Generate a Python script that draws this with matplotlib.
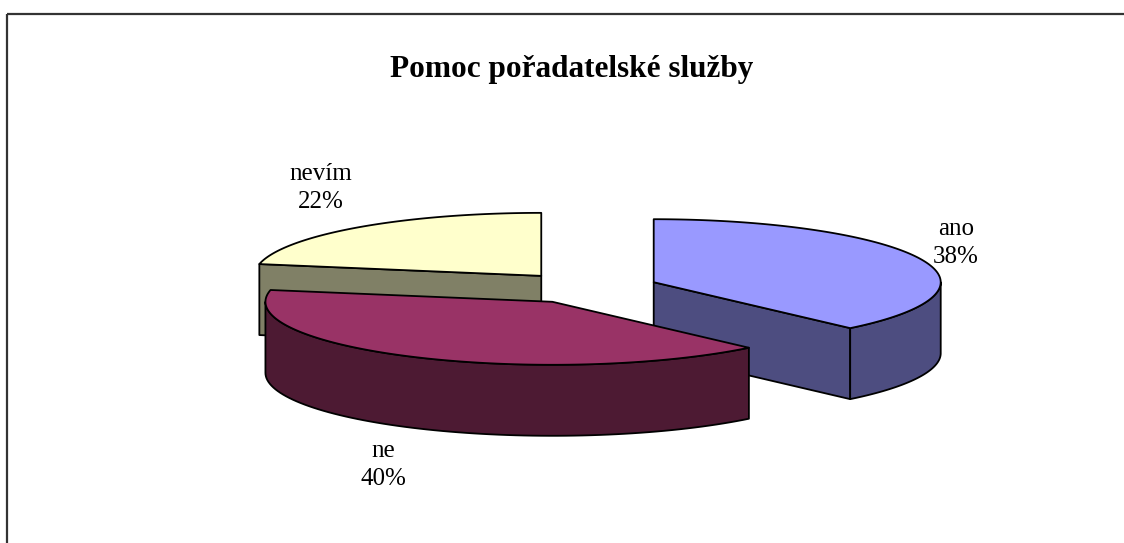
import numpy as np
import matplotlib.pyplot as plt
from matplotlib.patches import Polygon, Rectangle

plt.rcParams['font.family'] = ['Liberation Serif', 'DejaVu Serif']

# data
labels = ['ano', 'ne', 'nevím']
values = [38, 40, 22]
top_colors = ['#9999FF', '#993366', '#FFFFCC']
side_colors = ['#4D4D80', '#4D1A33', '#808066']
title = 'Pomoc pořadatelské služby'

# label anchor positions (pixels)
label_pos = [(956, 243), (383, 465), (321, 188)]

# layout of the 3d pie (pixels)
W, H = 1124, 543
cx, cy = 587, 288
rx, ry = 287, 63
depth = 71
explode = 0.25

fig = plt.figure(figsize=(W / 100, H / 100), dpi=100)
ax = fig.add_axes([0, 0, 1, 1])
ax.set_xlim(0, W)
ax.set_ylim(H, 0)
ax.axis('off')

# outer frame, cut by the page edges
ax.add_patch(Rectangle((7, 14), W + 20, H + 20, fill=False, ec='#333333', lw=1.6))
# bits of a caption above the frame, mostly off the page
ax.text(1, -6, '(', fontsize=16, va='baseline', ha='left', color='#555555')
ax.text(120, -6, ')', fontsize=16, va='baseline', ha='left', color='#555555')

ax.text(572, 69, title, fontsize=22.5, fontweight='bold', ha='center', va='center')


def rim(c, t):
    return np.column_stack([c[0] + rx * np.sin(t), c[1] - ry * np.cos(t)])


fr = np.array(values, dtype=float) / sum(values) * 2 * np.pi
starts = np.concatenate([[0], np.cumsum(fr)[:-1]])
ends = starts + fr

slices = []
for i in range(len(values)):
    mid = (starts[i] + ends[i]) / 2
    c = (cx + explode * rx * np.sin(mid), cy - explode * ry * np.cos(mid))
    slices.append((c[1], i, c))

edge = dict(ec='black', lw=1.3, joinstyle='round')
down = np.array([0, depth])

# paint from back to front
for _, i, c in sorted(slices):
    s, e = starts[i], ends[i]
    c = np.array(c)
    # cut faces
    for ang, vis in ((s, np.sin(s) < -1e-6), (e, np.sin(e) > 1e-6)):
        if vis:
            p = rim(c, np.array([ang]))[0]
            ax.add_patch(Polygon([c, p, p + down, c + down], fc=side_colors[i], **edge))
    # outer curved side (front half only)
    lo, hi = max(s, np.pi / 2), min(e, 3 * np.pi / 2)
    if lo < hi:
        pts = rim(c, np.linspace(lo, hi, 80))
        ax.add_patch(Polygon(np.vstack([pts, (pts + down)[::-1]]), fc=side_colors[i], **edge))
    # top face
    pts = rim(c, np.linspace(s, e, 120))
    ax.add_patch(Polygon(np.vstack([c, pts]), fc=top_colors[i], **edge))

for i, (x, y) in enumerate(label_pos):
    ax.text(x, y, f'{labels[i]}\n{values[i]}%', fontsize=18, ha='center', va='center',
            linespacing=1.32)

fig.savefig('out.png', dpi=100)
